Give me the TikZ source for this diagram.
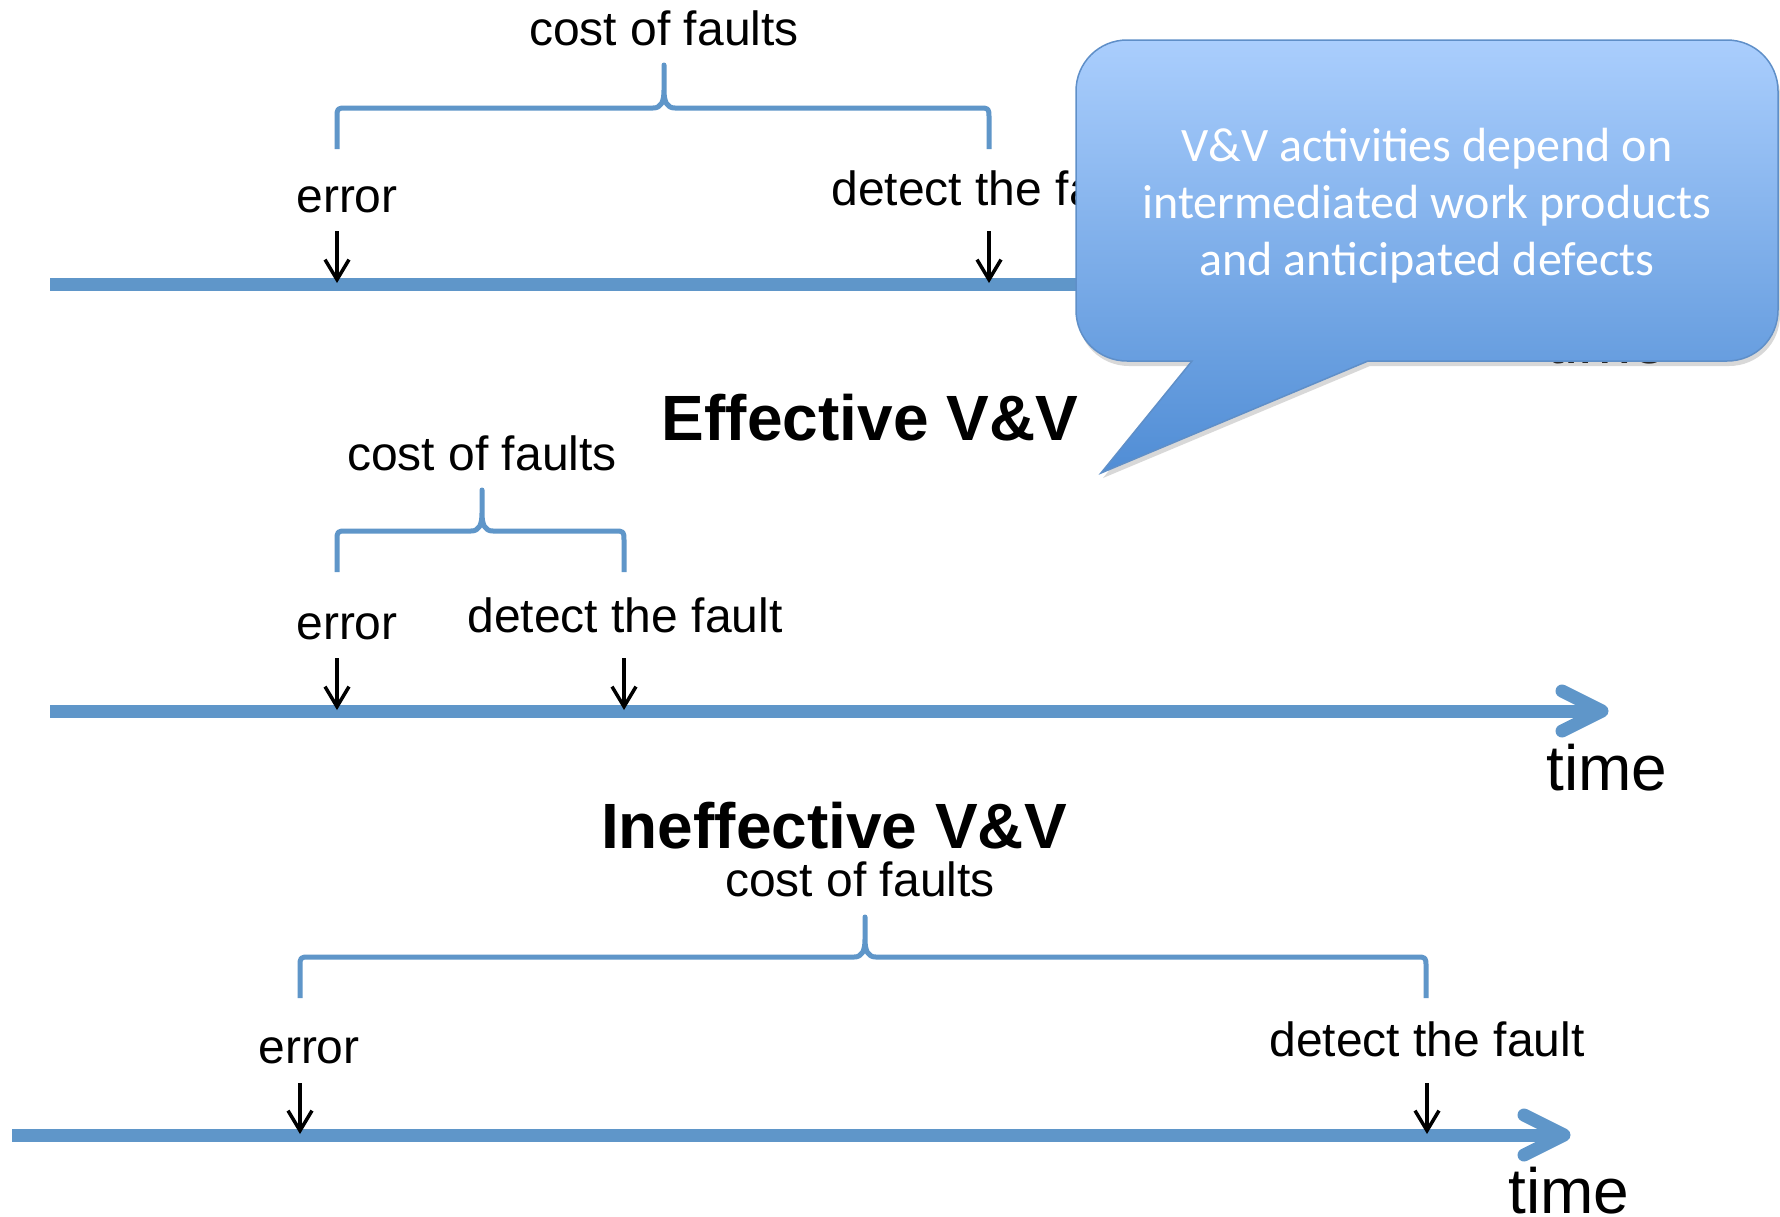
\documentclass[tikz,border=0pt]{standalone}
\usepackage{fontspec}
\setmainfont{Liberation Sans}
\newfontfamily\calloutfont{Carlito}
\usetikzlibrary{arrows.meta,shadows,calc}
\definecolor{vvblue}{RGB}{95,150,201}
\definecolor{calltop}{RGB}{170,206,253}
\definecolor{callbot}{RGB}{80,141,213}
\definecolor{callline}{RGB}{95,143,200}
\newcommand{\costbrace}[5]{% left x, right x, middle x, horizontal y, tip y
  \draw[costbrace] (#1,#4+41) -- (#1,#4+10) .. controls (#1,#4) .. (#1+10,#4) -- (#3-11,#4)
     .. controls (#3-3,#4) and (#3,#4-6) .. (#3,#4-18) -- (#3,#5) -- (#3,#4-18)
     .. controls (#3,#4-6) and (#3+3,#4) .. (#3+11,#4) -- (#2-10,#4) .. controls (#2,#4) .. (#2,#4+10) -- (#2,#4+41);}
\begin{document}
\begin{tikzpicture}[x=1pt,y=-1pt,
  timeline/.style={draw=vvblue,line width=13pt},
  chevron/.style={draw=vvblue,line width=13pt,line cap=round,line join=round},
  costbrace/.style={draw=vvblue,line width=5pt,line join=round},
  marker/.style={draw=black,line width=3.5pt,-{Straight Barb[length=20pt,width=24pt]}},
  lbl/.style={font=\fontsize{48}{58}\selectfont,anchor=base,inner sep=0pt},
  titlelbl/.style={font=\fontsize{64}{76}\selectfont\bfseries,anchor=base,inner sep=0pt},
  timelbl/.style={font=\fontsize{64}{76}\selectfont,anchor=base,inner sep=0pt},
  callout/.style={draw=callline,line width=1.5pt,top color=calltop,bottom color=callbot,
     drop shadow={opacity=0.3,shadow xshift=2pt,shadow yshift=-5pt}},
]
\path[use as bounding box,fill=white] (0,0) rectangle (1780,1216);

% ---------- section 1 ----------
\coordinate (a1s) at (50,284);
\coordinate (a1e) at (1596,284);
\coordinate (a1t) at (1602,284);
\draw[timeline] (a1s) -- (a1e);
\draw[chevron] ($(a1t)+(-40,-20)$) -- (a1t) -- ($(a1t)+(-40,20)$);
\node[lbl] (cost1) at (664,45) {cost of faults};
\costbrace{337}{989}{664}{108}{65}
\node[lbl] (err1) at (347,212) {error};
\node[lbl] (det1) at (989,205) {detect the fault};
\coordinate (m1a) at (337,231); \coordinate (m1b) at (337,283);
\coordinate (m1c) at (989,231); \coordinate (m1d) at (989,283);
\draw[marker] (m1a) -- (m1b);
\draw[marker] (m1c) -- (m1d);
\node[timelbl] (time1) at (1607,363) {time};

\node[titlelbl] (eff) at (870,440) {Effective V\&V};

% ---------- section 2 ----------
\coordinate (a2s) at (50,711);
\coordinate (a2e) at (1596,711);
\coordinate (a2t) at (1602,711);
\draw[timeline] (a2s) -- (a2e);
\draw[chevron] ($(a2t)+(-40,-20)$) -- (a2t) -- ($(a2t)+(-40,20)$);
\node[lbl] (cost2) at (482,470) {cost of faults};
\costbrace{337}{624}{482}{531}{490}
\node[lbl] (err2) at (347,639) {error};
\node[lbl] (det2) at (625,632) {detect the fault};
\coordinate (m2a) at (337,658); \coordinate (m2b) at (337,710);
\coordinate (m2c) at (624,658); \coordinate (m2d) at (624,710);
\draw[marker] (m2a) -- (m2b);
\draw[marker] (m2c) -- (m2d);
\node[timelbl] (time2) at (1607,790) {time};

\node[titlelbl] (ineff) at (834,848) {Ineffective V\&V};

% ---------- section 3 ----------
\coordinate (a3s) at (12,1135);
\coordinate (a3e) at (1558,1135);
\coordinate (a3t) at (1564,1135);
\draw[timeline] (a3s) -- (a3e);
\draw[chevron] ($(a3t)+(-40,-20)$) -- (a3t) -- ($(a3t)+(-40,20)$);
\node[lbl] (cost3) at (860,896) {cost of faults};
\costbrace{300}{1426}{865}{957}{917}
\node[lbl] (err3) at (309,1063) {error};
\node[lbl] (det3) at (1427,1056) {detect the fault};
\coordinate (m3a) at (300,1083); \coordinate (m3b) at (300,1134);
\coordinate (m3c) at (1427,1083); \coordinate (m3d) at (1427,1134);
\draw[marker] (m3a) -- (m3b);
\draw[marker] (m3c) -- (m3d);
\node[timelbl] (time3) at (1569,1213) {time};

% ---------- callout ----------
\path[callout] (1192,361) -- (1101,473) -- (1368,361) -- (1727,361)
  .. controls (1755.2,361) and (1778,338.8) .. (1778,310) -- (1778,91)
  .. controls (1778,62.8) and (1755.2,40) .. (1727,40) -- (1127,40)
  .. controls (1098.8,40) and (1076,62.8) .. (1076,91) -- (1076,310)
  .. controls (1076,338.8) and (1098.8,361) .. (1127,361) -- cycle;
\node[font=\calloutfont\fontsize{48}{57}\selectfont,text=white,align=center] (note) at (1427,206)
  {V\&V activities depend on\\intermediated work products\\and anticipated defects};
\end{tikzpicture}
\end{document}
